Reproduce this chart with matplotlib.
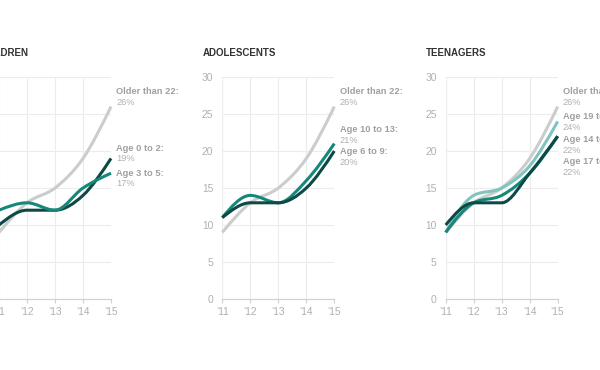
import matplotlib.pyplot as plt
import numpy as np
from matplotlib.path import Path
from matplotlib.patches import PathPatch

plt.rcParams["font.family"] = ["Liberation Sans", "DejaVu Sans"]

years = [2011, 2012, 2013, 2014, 2015]
year_labels = ["\u201911", "\u201912", "\u201913", "\u201914", "\u201915"]
y_ticks = [0, 5, 10, 15, 20, 25, 30]

panel_titles = ["CHILDREN", "ADOLESCENTS", "TEENAGERS"]

children_names = ["Older than 22:", "Age 0 to 2:", "Age 3 to 5:"]
children_older = [9, 13, 15, 19, 26]
children_0_2 = [10, 12, 12, 14, 19]
children_3_5 = [12, 13, 12, 15, 17]

adol_names = ["Older than 22:", "Age 10 to 13:", "Age 6 to 9:"]
adol_older = [9, 13, 15, 19, 26]
adol_10_13 = [11, 14, 13, 16, 21]
adol_6_9 = [11, 13, 13, 15, 20]

teen_names = ["Older than 22:", "Age 19 to 22:", "Age 14 to 16:", "Age 17 to 18:"]
teen_older = [9, 13, 15, 19, 26]
teen_19_22 = [9, 14, 15, 18, 24]
teen_14_16 = [9, 13, 14, 17, 22]
teen_17_18 = [10, 13, 13, 17, 22]

GRAY = "#cccccc"
DARK = "#0e4a45"
TEAL = "#15877b"
LIGHT = "#7fc5bd"

# (names, series, colours, label heights) per panel
panels = [
    (children_names, [children_older, children_0_2, children_3_5],
     [GRAY, DARK, TEAL], [28.0, 20.4, 17.0]),
    (adol_names, [adol_older, adol_10_13, adol_6_9],
     [GRAY, TEAL, DARK], [28.0, 22.9, 19.9]),
    (teen_names, [teen_older, teen_19_22, teen_14_16, teen_17_18],
     [GRAY, LIGHT, TEAL, DARK], [28.0, 24.6, 21.5, 18.55]),
]


def monotone_path(x, y):
    # same shape as d3.curveMonotoneX: cubic beziers with Fritsch-Carlson tangents
    x = np.asarray(x, float)
    y = np.asarray(y, float)
    h = np.diff(x)
    s = np.diff(y) / h
    t = np.zeros(len(x))
    for i in range(1, len(x) - 1):
        p = (s[i - 1] * h[i] + s[i] * h[i - 1]) / (h[i - 1] + h[i])
        t[i] = (np.sign(s[i - 1]) + np.sign(s[i])) * min(
            abs(s[i - 1]), abs(s[i]), 0.5 * abs(p))
    t[0] = (3 * s[0] - t[1]) / 2
    t[-1] = (3 * s[-1] - t[-2]) / 2
    verts = [(x[0], y[0])]
    codes = [Path.MOVETO]
    for i in range(len(x) - 1):
        dx = h[i] / 3
        verts += [(x[i] + dx, y[i] + dx * t[i]),
                  (x[i + 1] - dx, y[i + 1] - dx * t[i + 1]),
                  (x[i + 1], y[i + 1])]
        codes += [Path.CURVE4] * 3
    return Path(verts, codes)


W, H = 600, 370
fig = plt.figure(figsize=(6, 3.7), dpi=100)
fig.patch.set_facecolor("white")

axis_left = [-1.0, 222.3, 445.7]
axis_top, axis_bottom, axis_w = 77.0, 299.0, 112.0

for left, title, (names, series, colors, label_y) in zip(axis_left, panel_titles, panels):
    ax = fig.add_axes([left / W, (H - axis_bottom) / H, axis_w / W,
                       (axis_bottom - axis_top) / H])
    ax.set_xlim(years[0], years[-1])
    ax.set_ylim(0, 30)
    for sp in ["top", "right", "left"]:
        ax.spines[sp].set_visible(False)
    ax.spines["bottom"].set_color("#d0d0d0")
    ax.spines["bottom"].set_linewidth(0.8)
    ax.set_xticks(years)
    ax.set_xticklabels(year_labels)
    ax.set_yticks(y_ticks)
    ax.tick_params(axis="x", length=3, width=0.8, color="#d0d0d0",
                   labelcolor="#b0b0b0", labelsize=7.4, pad=2.5)
    ax.tick_params(axis="y", length=0, labelcolor="#b0b0b0", labelsize=7.4, pad=6.5)
    ax.grid(True, color="#ececec", linewidth=0.8)
    ax.set_axisbelow(True)

    for vals, c in zip(series, colors):
        ax.add_patch(PathPatch(monotone_path(years, vals), facecolor="none",
                               edgecolor=c, linewidth=2.2, clip_on=False,
                               capstyle="butt", zorder=3))

    for name, vals, ly in zip(names, series, label_y):
        ax.annotate(name, xy=(years[-1], ly), xytext=(3.8, 0),
                    textcoords="offset points", va="center", ha="left",
                    fontsize=6.7, fontweight="bold", color="#a0a0a0",
                    annotation_clip=False)
        ax.annotate(f"{vals[-1]}%", xy=(years[-1], ly), xytext=(3.8, -7.6),
                    textcoords="offset points", va="center", ha="left",
                    fontsize=6.7, color="#b0b0b0", annotation_clip=False)

    fig.text((left - 20) / W, (H - 52.7) / H, title, fontsize=7.0,
             fontweight="bold", color="#333333", va="center", ha="left")

fig.savefig("out.png", dpi=100, facecolor="white")
